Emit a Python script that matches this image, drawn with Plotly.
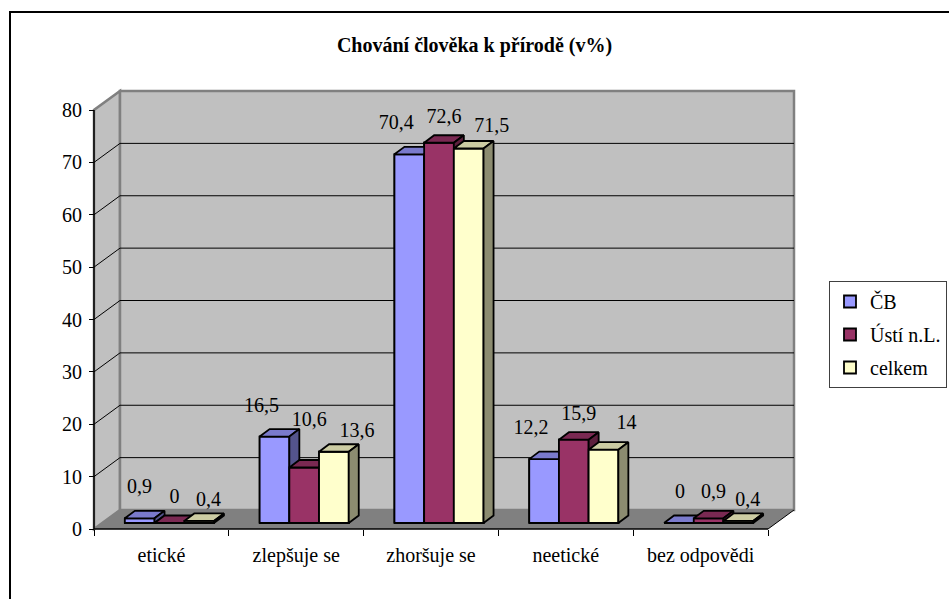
import plotly.graph_objects as go

categories = ['etické', 'zlepšuje se', 'zhoršuje se', 'neetické', 'bez odpovědi']
series_names = ['ČB', 'Ústí n.L.', 'celkem']
cb_values = [0.9, 16.5, 70.4, 12.2, 0]
usti_values = [0, 10.6, 72.6, 15.9, 0.9]
celkem_values = [0.4, 13.6, 71.5, 14, 0.4]
y_ticks = [0, 10, 20, 30, 40, 50, 60, 70, 80]

front_colors = ['#9999ff', '#993366', '#ffffcc']
top_colors = ['#7a7acc', '#7a2952', '#cccca3']
side_colors = ['#54548c', '#5c1f3d', '#8c8c70']

FONT = 'Liberation Serif, Times New Roman, serif'
W, H = 949, 599

# where the axes sit on the page (px), and px per category / per unit
X0_PX, Y0_PX = 94, 529
CAT_PX = 134.8
UNIT_PX = 419 / 80


def px_x(p):
    return p / CAT_PX


def px_y(p):
    return p / UNIT_PX


# fake 3d: wall depth, bar offset into the floor, bar depth
WALL_DX, WALL_DY = px_x(26), px_y(19)
BAR_DX, BAR_DY = px_x(8), px_y(6)
DEPTH_DX, DEPTH_DY = px_x(10), px_y(7.5)
BAR_W = px_x(29.7)

n_cat = len(categories)
y_top = y_ticks[-1]


def polys_to_xy(polys):
    xs, ys = [], []
    for poly in polys:
        for x, y in poly + [poly[0]]:
            xs.append(x)
            ys.append(y)
        xs.append(None)
        ys.append(None)
    return xs, ys


def path(points):
    return 'M ' + ' L '.join(f'{x},{y}' for x, y in points) + ' Z'


def fmt(v):
    return f'{v:g}'.replace('.', ',')


fig = go.Figure()

all_values = [cb_values, usti_values, celkem_values]

# plain bars only carry the legend; the polygons below repaint them in depth order
for j, (name, values) in enumerate(zip(series_names, all_values)):
    centers = [i + 0.5 + BAR_DX + (j - 1) * BAR_W for i in range(n_cat)]
    fig.add_trace(go.Bar(
        x=centers, y=values, base=BAR_DY, width=BAR_W,
        marker=dict(color=front_colors[j], line=dict(color='black', width=1.8)),
        name=name, legendgroup=name, hoverinfo='skip',
    ))

for j, (name, values) in enumerate(zip(series_names, all_values)):
    fronts, tops, sides = [], [], []
    for i, v in enumerate(values):
        left = i + 0.5 + BAR_DX + (j - 1.5) * BAR_W
        right = left + BAR_W
        b, t = BAR_DY, BAR_DY + v
        fronts.append([(left, b), (right, b), (right, t), (left, t)])
        tops.append([(left, t), (right, t), (right + DEPTH_DX, t + DEPTH_DY), (left + DEPTH_DX, t + DEPTH_DY)])
        sides.append([(right, b), (right + DEPTH_DX, b + DEPTH_DY), (right + DEPTH_DX, t + DEPTH_DY), (right, t)])
    for polys, color in [(fronts, front_colors[j]), (tops, top_colors[j]), (sides, side_colors[j])]:
        xs, ys = polys_to_xy(polys)
        fig.add_trace(go.Scatter(
            x=xs, y=ys, mode='lines', fill='toself', fillcolor=color,
            line=dict(color='black', width=1.8), legendgroup=name,
            showlegend=False, hoverinfo='skip',
        ))

# data labels, spread a bit like excel does and kept clear of a taller bar on the left
for j, (name, values) in enumerate(zip(series_names, all_values)):
    lx, ly = [], []
    for i, v in enumerate(values):
        center = i + 0.5 + BAR_DX + (j - 1) * BAR_W
        lx.append(center + px_x(5 + (j - 1) * min(18, 4 + 1.2 * v)))
        y = BAR_DY + v + px_y(30 - 5 * j)
        if j > 0:
            y = max(y, BAR_DY + all_values[j - 1][i] + DEPTH_DY + px_y(8))
        ly.append(y)
    fig.add_trace(go.Scatter(
        x=lx, y=ly, mode='text', text=[fmt(v) for v in values],
        textposition='middle center',
        textfont=dict(family=FONT, size=20, color='black'),
        legendgroup=name, showlegend=False, hoverinfo='skip', cliponaxis=False,
    ))

shapes = []
# floor, side wall, back wall
shapes.append(dict(type='path', layer='below', fillcolor='#808080', line=dict(width=0),
                   path=path([(0, 0), (WALL_DX, WALL_DY), (n_cat + WALL_DX, WALL_DY), (n_cat, 0)])))
shapes.append(dict(type='path', layer='below', fillcolor='#c0c0c0', line=dict(color='#808080', width=2.5),
                   path=path([(0, 0), (WALL_DX, WALL_DY), (WALL_DX, y_top + WALL_DY), (0, y_top)])))
shapes.append(dict(type='rect', layer='below', fillcolor='#c0c0c0', line=dict(color='#808080', width=2.5),
                   x0=WALL_DX, x1=n_cat + WALL_DX, y0=WALL_DY, y1=y_top + WALL_DY))
for v in y_ticks[1:-1]:
    shapes.append(dict(type='line', layer='below', line=dict(color='black', width=1),
                       x0=WALL_DX, x1=n_cat + WALL_DX, y0=v + WALL_DY, y1=v + WALL_DY))
    shapes.append(dict(type='line', layer='below', line=dict(color='black', width=1),
                       x0=0, x1=WALL_DX, y0=v, y1=v + WALL_DY))
# floor right edge and the two axis lines
shapes.append(dict(type='line', layer='below', line=dict(color='black', width=1),
                   x0=n_cat, x1=n_cat + WALL_DX, y0=0, y1=WALL_DY))
shapes.append(dict(type='line', layer='below', line=dict(color='black', width=1.5),
                   x0=0, x1=n_cat, y0=0, y1=0))
shapes.append(dict(type='line', layer='below', line=dict(color='black', width=1.5),
                   x0=0, x1=0, y0=0, y1=y_top))
# outer chart border
shapes.append(dict(type='rect', xref='paper', yref='paper', line=dict(color='black', width=2),
                   x0=10 / W, x1=1.05, y0=-0.05, y1=1 - 12 / H))

tick_font = dict(family=FONT, size=20, color='black')

fig.update_layout(
    width=W, height=H,
    template='none',
    margin=dict(l=0, r=0, t=0, b=0),
    paper_bgcolor='white', plot_bgcolor='white',
    barmode='overlay',
    title=dict(text='Chování člověka k přírodě (v%)', x=0.5, xanchor='center',
               y=1 - 45 / H, yanchor='middle',
               font=dict(family=FONT, size=20, color='black', weight='bold')),
    xaxis=dict(
        range=[-X0_PX / CAT_PX, (W - X0_PX) / CAT_PX],
        anchor='free', position=(H - Y0_PX) / H,
        tickmode='array', tickvals=[i + 0.5 for i in range(n_cat)], ticktext=categories,
        ticks='outside', ticklen=6, tickcolor='rgba(0,0,0,0)', ticklabelstandoff=2,
        minor=dict(tickvals=list(range(n_cat + 1)), ticks='outside', ticklen=6,
                   tickcolor='black', tickwidth=1),
        showline=False, showgrid=False, zeroline=False, automargin=False,
        tickfont=tick_font, fixedrange=True,
    ),
    yaxis=dict(
        range=[(Y0_PX - H) / UNIT_PX, Y0_PX / UNIT_PX],
        anchor='free', position=X0_PX / W,
        tickmode='array', tickvals=y_ticks,
        ticks='outside', ticklen=5, tickcolor='black', tickwidth=1, ticklabelstandoff=3,
        showline=False, showgrid=False, zeroline=False, automargin=False,
        tickfont=tick_font, fixedrange=True,
    ),
    legend=dict(
        x=1 - 2 / W, xanchor='right', y=1 - 281 / H, yanchor='top',
        bgcolor='white', bordercolor='#404040', borderwidth=1,
        font=dict(family=FONT, size=20, color='black'),
        traceorder='grouped', tracegroupgap=4, itemwidth=30,
    ),
    shapes=shapes,
    showlegend=True,
)

# drop the default page margin so the figure starts at the window corner
fig.write_html('out.html', config={'displayModeBar': False},
               post_script="document.body.style.margin='0';")
